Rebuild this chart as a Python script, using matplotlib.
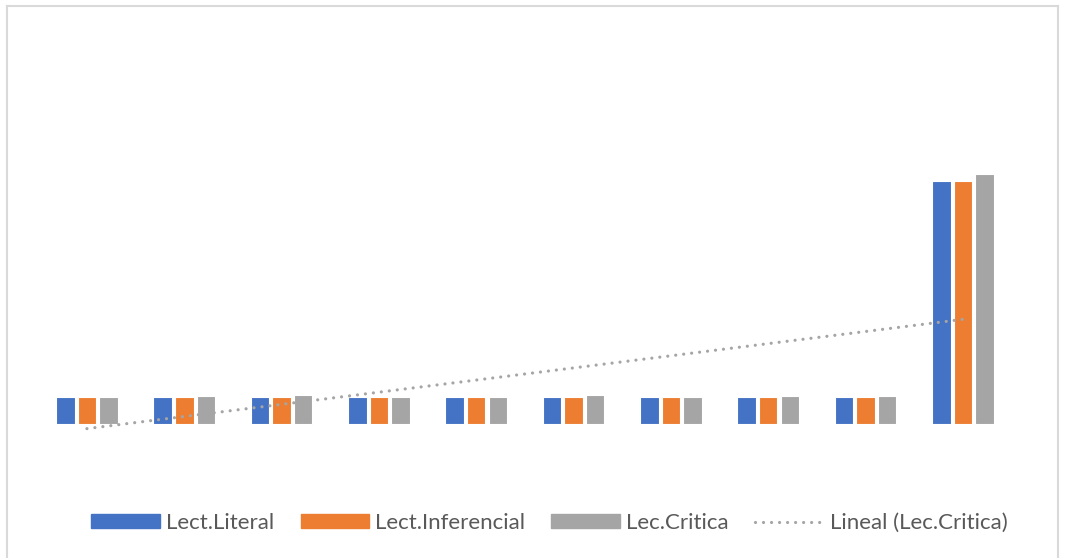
import matplotlib.pyplot as plt
from matplotlib.patches import Patch
from matplotlib.lines import Line2D
import numpy as np

plt.rcParams['font.family'] = ['Lato', 'DejaVu Sans']

# data
groups = np.arange(10)
lect_literal = [27, 27, 27, 27, 27, 27, 27, 27, 27, 243]
lect_inferencial = [27, 27, 27, 27, 27, 27, 27, 27, 27, 243]
lec_critica = [27, 28, 29, 27, 27, 29, 27, 28, 28, 250]
series_names = ['Lect.Literal', 'Lect.Inferencial', 'Lec.Critica']
trend_name = 'Lineal (Lec.Critica)'

colors = ['#4472C4', '#ED7D31', '#A5A5A5']

fig = plt.figure(figsize=(10.66, 5.58), dpi=100)
ax = fig.add_axes([0.0359, 0.1685, 0.913, 0.7168])

step = 0.222
width = 0.19
for i, vals in enumerate([lect_literal, lect_inferencial, lec_critica]):
    ax.bar(groups + (i - 1) * step, vals, width=width, color=colors[i],
           edgecolor='white', linewidth=0.8, zorder=2)

# linear trendline of Lec.Critica
slope, intercept = np.polyfit(groups + 1, lec_critica, 1)
tx = np.array([groups[0], groups[-1]])
dots = (0, (0.01, 2.5))
ax.plot(tx, slope * (tx + 1) + intercept, color='#A5A5A5', linewidth=2.3,
        linestyle=dots, dash_capstyle='round', zorder=3)

ax.set_xlim(-0.5, 9.5)
ax.set_ylim(-40, 360)
ax.axis('off')

# chart border
fig.add_artist(Line2D([7 / 1066, 1058 / 1066], [1 - 6 / 558, 1 - 6 / 558],
                      color='#D9D9D9', linewidth=1.5))
fig.add_artist(Line2D([7 / 1066, 7 / 1066], [0, 1 - 6 / 558],
                      color='#D9D9D9', linewidth=1.5))
fig.add_artist(Line2D([1058 / 1066, 1058 / 1066], [0, 1 - 6 / 558],
                      color='#D9D9D9', linewidth=1.5))

handles = [Patch(color=colors[0]), Patch(color=colors[1]), Patch(color=colors[2]),
           Line2D([0], [0], color='#A5A5A5', linewidth=2.3,
                  linestyle=dots, dash_capstyle='round')]
labels = series_names + [trend_name]
fig.legend(handles, labels, loc='center', bbox_to_anchor=(0.5155, 0.063), ncol=4,
           frameon=False, fontsize=16, handlelength=3.1, handleheight=0.54,
           handletextpad=0.27, columnspacing=1.17, labelcolor='#595959')

plt.savefig('out.png', dpi=100)
